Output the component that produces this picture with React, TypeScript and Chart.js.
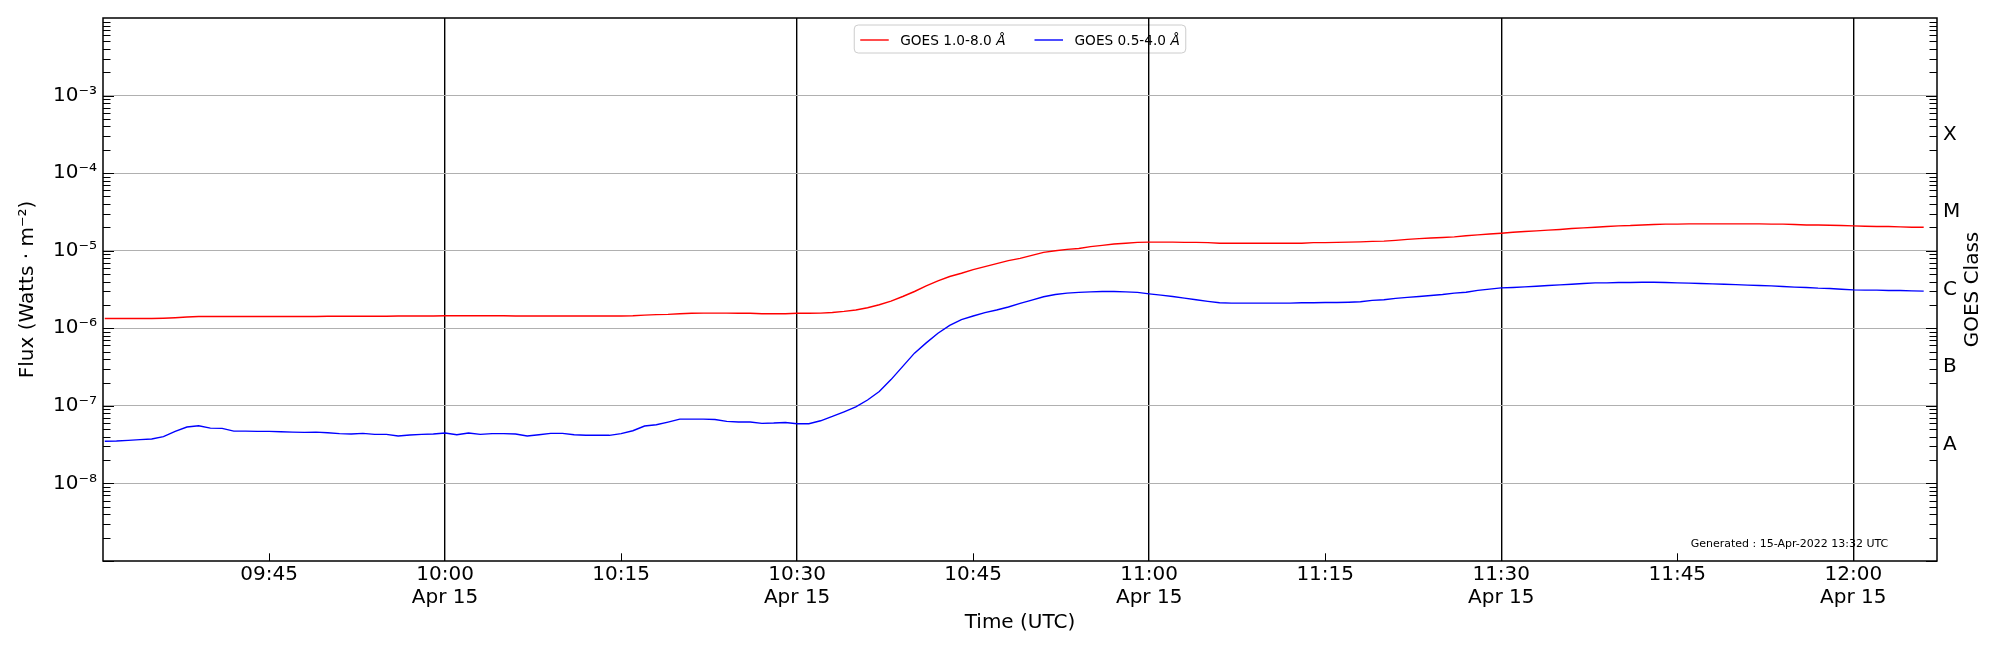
import { useEffect, useRef } from 'react';
import { Chart, registerables } from 'chart.js';

Chart.register(...registerables);

const FONT = '"DejaVu Sans", "Liberation Sans", sans-serif';
Chart.defaults.font.family = FONT;
Chart.defaults.color = '#000';

// GOES XRS fluxes, 1-minute cadence starting at 09:31 UTC
const START_TIME = '09:31';
const DATE_LABEL = 'Apr 15';
const X_LIMITS = ['09:30:51', '12:07:08'];
const X_TICKS = ['09:45', '10:00', '10:15', '10:30', '10:45', '11:00', '11:15', '11:30', '11:45', '12:00'];

const LONG_LABEL = 'GOES 1.0-8.0 Å';
const SHORT_LABEL = 'GOES 0.5-4.0 Å';

const XRS_LONG = [
  1.34e-6, 1.34e-6, 1.34e-6, 1.34e-6, 1.34e-6, 1.35e-6, 1.37e-6, 1.40e-6, 1.42e-6, 1.42e-6,
  1.42e-6, 1.42e-6, 1.42e-6, 1.42e-6, 1.42e-6, 1.42e-6, 1.42e-6, 1.42e-6, 1.42e-6, 1.43e-6,
  1.43e-6, 1.43e-6, 1.43e-6, 1.43e-6, 1.43e-6, 1.44e-6, 1.44e-6, 1.44e-6, 1.44e-6, 1.45e-6,
  1.45e-6, 1.45e-6, 1.45e-6, 1.45e-6, 1.45e-6, 1.44e-6, 1.44e-6, 1.44e-6, 1.44e-6, 1.44e-6,
  1.44e-6, 1.44e-6, 1.44e-6, 1.44e-6, 1.44e-6, 1.45e-6, 1.48e-6, 1.50e-6, 1.51e-6, 1.54e-6,
  1.56e-6, 1.57e-6, 1.57e-6, 1.57e-6, 1.56e-6, 1.56e-6, 1.54e-6, 1.54e-6, 1.54e-6, 1.56e-6,
  1.56e-6, 1.57e-6, 1.60e-6, 1.65e-6, 1.72e-6, 1.84e-6, 2.01e-6, 2.24e-6, 2.57e-6, 2.98e-6,
  3.52e-6, 4.08e-6, 4.65e-6, 5.12e-6, 5.70e-6, 6.24e-6, 6.81e-6, 7.45e-6, 7.97e-6, 8.72e-6,
  9.53e-6, 1.00e-5, 1.04e-5, 1.07e-5, 1.13e-5, 1.17e-5, 1.22e-5, 1.25e-5, 1.28e-5, 1.29e-5,
  1.29e-5, 1.29e-5, 1.28e-5, 1.28e-5, 1.27e-5, 1.25e-5, 1.25e-5, 1.25e-5, 1.25e-5, 1.25e-5,
  1.25e-5, 1.25e-5, 1.25e-5, 1.27e-5, 1.27e-5, 1.28e-5, 1.29e-5, 1.30e-5, 1.32e-5, 1.33e-5,
  1.36e-5, 1.40e-5, 1.43e-5, 1.46e-5, 1.48e-5, 1.51e-5, 1.56e-5, 1.60e-5, 1.64e-5, 1.68e-5,
  1.73e-5, 1.77e-5, 1.80e-5, 1.84e-5, 1.88e-5, 1.93e-5, 1.97e-5, 2.01e-5, 2.05e-5, 2.09e-5,
  2.11e-5, 2.15e-5, 2.18e-5, 2.20e-5, 2.20e-5, 2.22e-5, 2.22e-5, 2.22e-5, 2.22e-5, 2.22e-5,
  2.22e-5, 2.22e-5, 2.20e-5, 2.20e-5, 2.18e-5, 2.15e-5, 2.15e-5, 2.13e-5, 2.11e-5, 2.09e-5,
  2.07e-5, 2.05e-5, 2.05e-5, 2.03e-5, 2.01e-5, 2.01e-5,
];

const XRS_SHORT = [
  3.49e-8, 3.52e-8, 3.59e-8, 3.67e-8, 3.74e-8, 4.01e-8, 4.69e-8, 5.33e-8, 5.54e-8, 5.17e-8,
  5.12e-8, 4.73e-8, 4.73e-8, 4.69e-8, 4.69e-8, 4.64e-8, 4.59e-8, 4.55e-8, 4.59e-8, 4.51e-8,
  4.38e-8, 4.33e-8, 4.42e-8, 4.29e-8, 4.29e-8, 4.08e-8, 4.21e-8, 4.29e-8, 4.33e-8, 4.47e-8,
  4.25e-8, 4.47e-8, 4.29e-8, 4.38e-8, 4.38e-8, 4.33e-8, 4.08e-8, 4.25e-8, 4.42e-8, 4.42e-8,
  4.25e-8, 4.17e-8, 4.17e-8, 4.17e-8, 4.38e-8, 4.78e-8, 5.49e-8, 5.70e-8, 6.18e-8, 6.75e-8,
  6.75e-8, 6.75e-8, 6.68e-8, 6.30e-8, 6.18e-8, 6.18e-8, 5.94e-8, 6.00e-8, 6.11e-8, 5.88e-8,
  5.88e-8, 6.42e-8, 7.30e-8, 8.38e-8, 9.70e-8, 1.19e-7, 1.53e-7, 2.18e-7, 3.23e-7, 4.78e-7,
  6.49e-7, 8.63e-7, 1.09e-6, 1.29e-6, 1.44e-6, 1.59e-6, 1.72e-6, 1.88e-6, 2.09e-6, 2.31e-6,
  2.55e-6, 2.73e-6, 2.84e-6, 2.90e-6, 2.95e-6, 2.98e-6, 2.98e-6, 2.95e-6, 2.90e-6, 2.78e-6,
  2.68e-6, 2.57e-6, 2.45e-6, 2.33e-6, 2.22e-6, 2.13e-6, 2.11e-6, 2.11e-6, 2.11e-6, 2.11e-6,
  2.11e-6, 2.11e-6, 2.13e-6, 2.13e-6, 2.15e-6, 2.15e-6, 2.17e-6, 2.20e-6, 2.29e-6, 2.33e-6,
  2.43e-6, 2.50e-6, 2.57e-6, 2.65e-6, 2.73e-6, 2.84e-6, 2.92e-6, 3.08e-6, 3.20e-6, 3.32e-6,
  3.36e-6, 3.42e-6, 3.49e-6, 3.56e-6, 3.63e-6, 3.70e-6, 3.78e-6, 3.85e-6, 3.85e-6, 3.89e-6,
  3.89e-6, 3.93e-6, 3.93e-6, 3.89e-6, 3.85e-6, 3.82e-6, 3.78e-6, 3.74e-6, 3.70e-6, 3.66e-6,
  3.60e-6, 3.56e-6, 3.52e-6, 3.45e-6, 3.39e-6, 3.35e-6, 3.29e-6, 3.26e-6, 3.19e-6, 3.13e-6,
  3.10e-6, 3.10e-6, 3.07e-6, 3.07e-6, 3.04e-6, 3.01e-6,
];

// y axis decades and GOES flare classes (lower bound of each class)
const Y_DECADES = [-9, -8, -7, -6, -5, -4, -3, -2];
const GOES_CLASSES = ['A', 'B', 'C', 'M', 'X'];
const CLASS_LOWER = [1e-8, 1e-7, 1e-6, 1e-5, 1e-4];

const Y_TITLE = 'Flux (Watts · m⁻²)';
const Y2_TITLE = 'GOES Class';
const X_TITLE = 'Time (UTC)';
const NOTE = 'Generated : 15-Apr-2022 13:32 UTC';

const toMinutes = (s: string) => {
  const [h, m, sec] = s.split(':').map(Number);
  return h * 60 + m + (sec || 0) / 60;
};

const SUP: Record<string, string> = {
  '-': '⁻', '0': '⁰', '1': '¹', '2': '²', '3': '³', '4': '⁴', '5': '⁵', '6': '⁶', '7': '⁷', '8': '⁸', '9': '⁹',
};
const sup = (s: string) => s.split('').map((c) => SUP[c] || c).join('');

const startMin = toMinutes(START_TIME);
const series = (vals: number[]) => vals.map((y, i) => ({ x: startMin + i, y }));

const yMin = Math.pow(10, Y_DECADES[0]);
const yMax = Math.pow(10, Y_DECADES[Y_DECADES.length - 1]);

const decorPlugin = {
  id: 'goesDecor',
  beforeDraw(chart: any) {
    // legend, upper centre, underneath the grid lines
    const { ctx, chartArea } = chart;
    const { left, right, top } = chartArea;
    const fontN = `13.7px ${FONT}`;
    const fontI = `italic 13.7px ${FONT}`;
    const items = chart.data.datasets.map((ds: any) => {
      const cut = ds.label.lastIndexOf(' ') + 1;
      const main = ds.label.slice(0, cut);
      const unit = ds.label.slice(cut);
      ctx.font = fontN;
      const wMain = ctx.measureText(main).width;
      ctx.font = fontI;
      const wUnit = ctx.measureText(unit).width;
      return { main, unit, wMain, w: wMain + wUnit, color: ds.borderColor };
    });
    const pad = 6, handle = 28.5, gap = 11.5, itemGap = 29, h = 28;
    let total = pad * 2 + itemGap * (items.length - 1);
    items.forEach((it: any) => (total += handle + gap + it.w));
    const x0 = (left + right) / 2 - total / 2;
    const y0 = top + 7;
    ctx.save();
    ctx.beginPath();
    ctx.roundRect(x0, y0, total, h, 4);
    ctx.fillStyle = 'rgba(255,255,255,0.8)';
    ctx.fill();
    ctx.strokeStyle = '#cccccc';
    ctx.lineWidth = 1;
    ctx.stroke();
    let x = x0 + pad;
    const ly = y0 + 15;
    items.forEach((it: any) => {
      ctx.beginPath();
      ctx.moveTo(x, ly);
      ctx.lineTo(x + handle, ly);
      ctx.strokeStyle = it.color;
      ctx.lineWidth = 1.4;
      ctx.stroke();
      x += handle + gap;
      ctx.fillStyle = '#000';
      ctx.textBaseline = 'alphabetic';
      ctx.textAlign = 'left';
      ctx.font = fontN;
      ctx.fillText(it.main, x, y0 + 20);
      ctx.font = fontI;
      ctx.fillText(it.unit, x + it.wMain, y0 + 20);
      x += it.w + itemGap;
    });
    ctx.restore();
  },
  afterDatasetsDraw(chart: any) {
    const { ctx, chartArea, scales } = chart;
    const { left, right, top, bottom } = chartArea;
    ctx.save();
    ctx.strokeStyle = '#000';
    ctx.lineWidth = 1;
    // log ticks pointing inward on both sides
    const y = scales.y;
    for (let k = Y_DECADES[0]; k < Y_DECADES[Y_DECADES.length - 1]; k++) {
      for (let m = 1; m <= 9; m++) {
        const py = Math.round(y.getPixelForValue(m * Math.pow(10, k))) + 0.5;
        const len = m === 1 ? 11 : 7.5;
        ctx.beginPath();
        ctx.moveTo(left, py);
        ctx.lineTo(left + len, py);
        ctx.moveTo(right, py);
        ctx.lineTo(right - len, py);
        ctx.stroke();
      }
    }
    // quarter-hour ticks on the time axis
    scales.x.ticks.forEach((t: any) => {
      if (Math.round(t.value) % 30 === 0) return;
      const px = Math.round(scales.x.getPixelForValue(t.value)) + 0.5;
      ctx.beginPath();
      ctx.moveTo(px, bottom);
      ctx.lineTo(px, bottom - 7.7);
      ctx.stroke();
    });
    // frame
    ctx.lineWidth = 1.5;
    ctx.strokeRect(left, top, right - left, bottom - top);
    // generation note
    ctx.fillStyle = '#000';
    ctx.font = `11px ${FONT}`;
    ctx.textAlign = 'center';
    ctx.textBaseline = 'middle';
    ctx.fillText(NOTE, right - 147.5, bottom - 17);
    // right-hand axis title, reading bottom to top
    ctx.translate(chart.width - 27.3, (top + bottom) / 2);
    ctx.rotate(-Math.PI / 2);
    ctx.font = `20px ${FONT}`;
    ctx.fillText(Y2_TITLE, 0, 0);
    ctx.restore();
  },
};

export default function App() {
  const canvasRef = useRef<HTMLCanvasElement | null>(null);

  useEffect(() => {
    if (!canvasRef.current) return;
    const xTickValues = X_TICKS.map(toMinutes);

    const chart = new Chart(canvasRef.current, {
      type: 'line',
      data: {
        datasets: [
          {
            label: LONG_LABEL,
            data: series(XRS_LONG),
            borderColor: '#ff0000',
            borderWidth: 1.4,
            pointRadius: 0,
            tension: 0,
            yAxisID: 'y',
          },
          {
            label: SHORT_LABEL,
            data: series(XRS_SHORT),
            borderColor: '#0000ff',
            borderWidth: 1.4,
            pointRadius: 0,
            tension: 0,
            yAxisID: 'y',
          },
        ],
      },
      options: {
        animation: false,
        responsive: true,
        maintainAspectRatio: false,
        layout: { padding: { top: 15, left: 0, right: 0, bottom: 0 } },
        plugins: { legend: { display: false }, tooltip: { enabled: false } },
        scales: {
          x: {
            type: 'linear',
            min: toMinutes(X_LIMITS[0]),
            max: toMinutes(X_LIMITS[1]),
            afterBuildTicks: (scale: any) => {
              scale.ticks = xTickValues.map((value) => ({ value }));
            },
            afterFit: (scale: any) => {
              scale.height = 89;
            },
            border: { display: false },
            grid: {
              drawTicks: false,
              lineWidth: 1.4,
              color: (c: any) => (c.tick && Math.round(c.tick.value) % 30 === 0 ? '#000' : 'rgba(0,0,0,0)'),
            },
            ticks: {
              autoSkip: false,
              maxRotation: 0,
              padding: 2,
              font: { size: 20, lineHeight: 1.15 },
              callback: (v: any) => {
                const i = xTickValues.findIndex((t) => Math.abs(t - v) < 0.01);
                if (i < 0) return '';
                return Math.round(v) % 30 === 0 ? [X_TICKS[i], DATE_LABEL] : X_TICKS[i];
              },
            },
            title: { display: true, text: X_TITLE, font: { size: 20 }, padding: { top: 0, bottom: 15 } },
          },
          y: {
            type: 'logarithmic',
            position: 'left',
            min: yMin,
            max: yMax,
            afterBuildTicks: (scale: any) => {
              scale.ticks = Y_DECADES.map((e) => ({ value: Math.pow(10, e) }));
            },
            afterFit: (scale: any) => {
              scale.width = 103;
            },
            border: { display: false },
            grid: {
              drawTicks: false,
              lineWidth: 1.1,
              color: (c: any) => {
                if (!c.tick) return 'rgba(0,0,0,0)';
                const e = Math.round(Math.log10(c.tick.value));
                return e <= Y_DECADES[0] || e >= Y_DECADES[Y_DECADES.length - 1] ? 'rgba(0,0,0,0)' : '#b0b0b0';
              },
            },
            ticks: {
              padding: 6,
              font: { size: 20 },
              callback: (v: any) => {
                const e = Math.round(Math.log10(v));
                if (e <= Y_DECADES[0] || e >= Y_DECADES[Y_DECADES.length - 1]) return '';
                return '10' + sup(String(e));
              },
            },
            title: { display: true, text: Y_TITLE, font: { size: 20 }, padding: { top: 15.5, bottom: 0 } },
          },
          y2: {
            type: 'logarithmic',
            position: 'right',
            min: yMin,
            max: yMax,
            afterBuildTicks: (scale: any) => {
              scale.ticks = CLASS_LOWER.map((v) => ({ value: v * Math.sqrt(10) }));
            },
            afterFit: (scale: any) => {
              scale.width = 63;
            },
            border: { display: false },
            grid: { display: false, drawTicks: false },
            ticks: {
              padding: 6,
              font: { size: 20 },
              callback: (v: any) => {
                const i = CLASS_LOWER.findIndex((c) => Math.abs(Math.log10(v / c) - 0.5) < 0.01);
                return i < 0 ? '' : GOES_CLASSES[i];
              },
            },
          },
        },
      },
      plugins: [decorPlugin],
    } as any);

    return () => {
      chart.destroy();
    };
  }, []);

  return (
    <div style={{ position: 'absolute', left: 0, top: 0, width: 2000, height: 650, background: '#fff' }}>
      <canvas ref={canvasRef} />
    </div>
  );
}
